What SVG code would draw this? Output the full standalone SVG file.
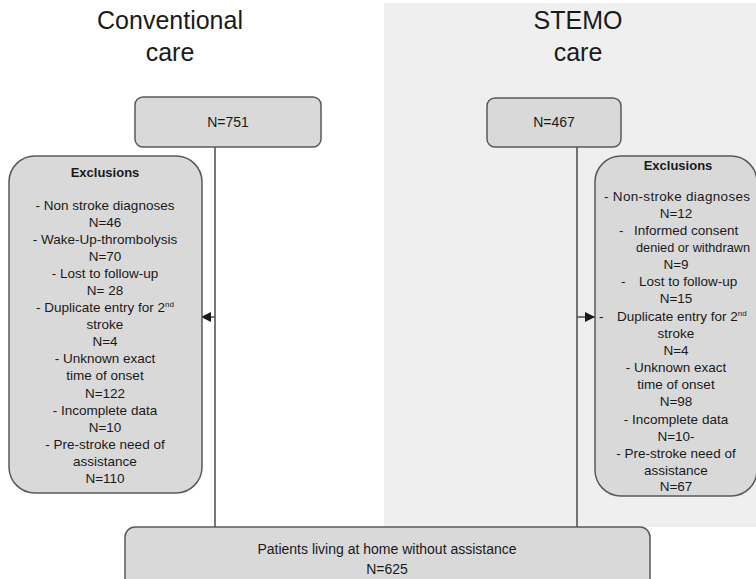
<svg xmlns="http://www.w3.org/2000/svg" width="756" height="579" viewBox="0 0 756 579">
  <style>
    .box { fill: #d9d9d9; stroke: #595959; stroke-width: 1.5; }
    .link { stroke: #4a4a4a; stroke-width: 1.5; fill: none; }
    .title { font-family: "Liberation Sans", Arial, sans-serif; font-size: 25px; fill: #1a1a1a; text-anchor: middle; }
    .lbl { font-family: "Liberation Sans", Arial, sans-serif; font-size: 14px; fill: #1a1a1a; text-anchor: middle; }
    .ex { font-family: "Liberation Sans", Arial, sans-serif; font-size: 13.5px; fill: #1a1a1a; text-anchor: middle; }
    .exl { font-family: "Liberation Sans", Arial, sans-serif; font-size: 13.5px; fill: #1a1a1a; }
    .head { font-family: "Liberation Sans", Arial, sans-serif; font-size: 13px; font-weight: bold; fill: #1a1a1a; text-anchor: middle; }
    .sup { font-size: 8px; }
  </style>
  <defs>
    <marker id="arrow" viewBox="0 0 10 10" refX="10" refY="5" markerWidth="10" markerHeight="10" markerUnits="userSpaceOnUse" orient="auto">
      <path d="M0,0 L10,5 L0,10 z" fill="#1a1a1a"/>
    </marker>
  </defs>

  <!-- background panel for the STEMO arm -->
  <rect x="384" y="3" width="372" height="524" fill="#efefef"/>

  <!-- column headings -->
  <text class="title" x="170" y="29">Conventional</text>
  <text class="title" x="170" y="61">care</text>
  <text class="title" x="578" y="29">STEMO</text>
  <text class="title" x="578" y="61">care</text>

  <!-- connectors -->
  <g id="connectors">
    <line class="link" x1="215" y1="147" x2="215" y2="527"/>
    <line class="link" x1="577" y1="147" x2="577" y2="527"/>
    <line class="link" x1="215" y1="317" x2="201" y2="317" marker-end="url(#arrow)"/>
    <line class="link" x1="577" y1="317" x2="595" y2="317" marker-end="url(#arrow)"/>
  </g>

  <g id="conv-start">
    <rect class="box" x="135" y="97" width="186" height="50" rx="8"/>
    <text class="lbl" x="228" y="127">N=751</text>
  </g>

  <g id="stemo-start">
    <rect class="box" x="487" y="98" width="134" height="49" rx="8"/>
    <text class="lbl" x="554" y="127">N=467</text>
  </g>

  <g id="conv-exclusions">
    <rect class="box" x="9" y="156" width="193" height="337" rx="26"/>
    <text class="head" x="105" y="177">Exclusions</text>
    <text class="ex" x="105" y="210">- Non stroke diagnoses</text>
    <text class="ex" x="105" y="227">N=46</text>
    <text class="ex" x="105" y="244">- Wake-Up-thrombolysis</text>
    <text class="ex" x="105" y="261">N=70</text>
    <text class="ex" x="105" y="278">- Lost to follow-up</text>
    <text class="ex" x="105" y="295">N= 28</text>
    <text class="ex" x="105" y="312">- Duplicate entry for 2<tspan class="sup" dy="-5">nd</tspan></text>
    <text class="ex" x="105" y="329">stroke</text>
    <text class="ex" x="105" y="346">N=4</text>
    <text class="ex" x="105" y="363">- Unknown exact</text>
    <text class="ex" x="105" y="380">time of onset</text>
    <text class="ex" x="105" y="398">N=122</text>
    <text class="ex" x="105" y="415">- Incomplete data</text>
    <text class="ex" x="105" y="432">N=10</text>
    <text class="ex" x="105" y="449">- Pre-stroke need of</text>
    <text class="ex" x="105" y="466">assistance</text>
    <text class="ex" x="105" y="483">N=110</text>
  </g>

  <g id="stemo-exclusions">
    <rect class="box" x="595" y="156" width="162" height="340" rx="26"/>
    <text class="head" x="678" y="170">Exclusions</text>
    <text class="ex" x="677" y="201" textLength="146" lengthAdjust="spacing">- Non-stroke diagnoses</text>
    <text class="ex" x="676" y="218">N=12</text>
    <text class="exl" x="619" y="235">-</text>
    <text class="exl" x="634" y="235">Informed consent</text>
    <text class="exl" x="636" y="252" textLength="114" lengthAdjust="spacingAndGlyphs">denied or withdrawn</text>
    <text class="ex" x="676" y="269">N=9</text>
    <text class="exl" x="621" y="286">-</text>
    <text class="exl" x="639" y="286">Lost to follow-up</text>
    <text class="ex" x="676" y="303">N=15</text>
    <text class="exl" x="599" y="321">-</text>
    <text class="exl" x="617" y="321">Duplicate entry for 2<tspan class="sup" dy="-5">nd</tspan></text>
    <text class="ex" x="676" y="338">stroke</text>
    <text class="ex" x="676" y="355">N=4</text>
    <text class="ex" x="676" y="372">- Unknown exact</text>
    <text class="ex" x="676" y="389">time of onset</text>
    <text class="ex" x="676" y="406">N=98</text>
    <text class="ex" x="676" y="424">- Incomplete data</text>
    <text class="ex" x="676" y="441">N=10-</text>
    <text class="ex" x="676" y="458">- Pre-stroke need of</text>
    <text class="ex" x="676" y="475">assistance</text>
    <text class="ex" x="676" y="491">N=67</text>
  </g>

  <g id="final-cohort">
    <rect class="box" x="125" y="527" width="525" height="62" rx="10"/>
    <text class="lbl" x="387" y="554">Patients living at home without assistance</text>
    <text class="lbl" x="387" y="574">N=625</text>
  </g>
</svg>
